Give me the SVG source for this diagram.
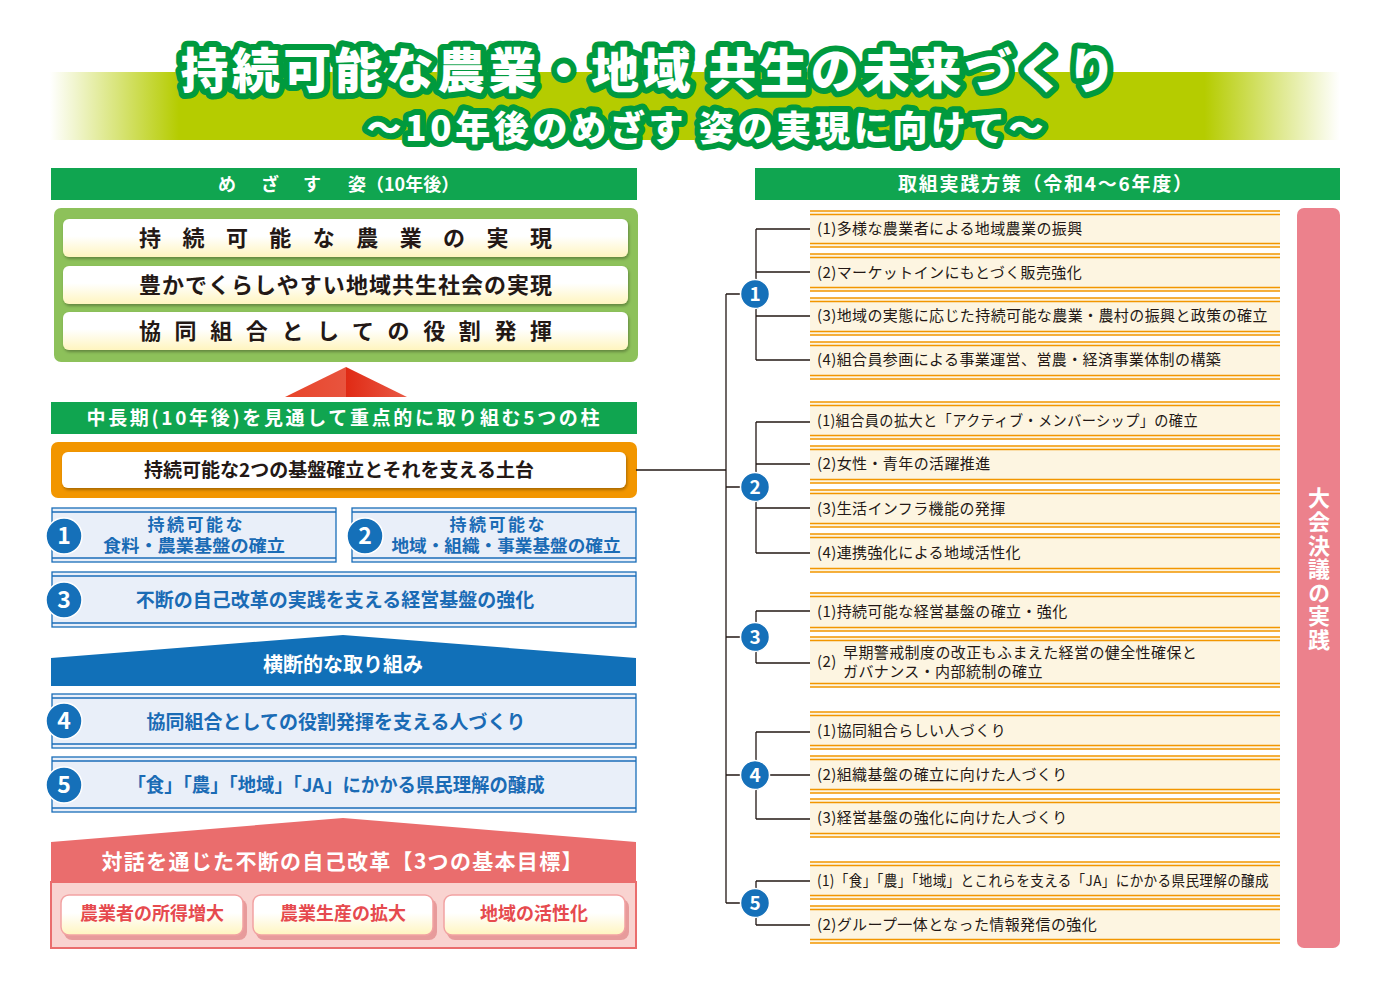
<svg xmlns="http://www.w3.org/2000/svg" width="1400" height="989" viewBox="0 0 1400 989">
<defs>
<linearGradient id="band" x1="0" y1="0" x2="1" y2="0">
<stop offset="0" stop-color="#b5cc00" stop-opacity="0"/>
<stop offset="0.1" stop-color="#b5cc00" stop-opacity="1"/>
<stop offset="0.895" stop-color="#b5cc00" stop-opacity="1"/>
<stop offset="1" stop-color="#b5cc00" stop-opacity="0"/>
</linearGradient>
<linearGradient id="cream" x1="0" y1="0" x2="0" y2="1">
<stop offset="0" stop-color="#ffffff"/>
<stop offset="0.45" stop-color="#ffffff"/>
<stop offset="1" stop-color="#fff5bf"/>
</linearGradient>
<linearGradient id="tri" x1="0" y1="0" x2="1" y2="0">
<stop offset="0" stop-color="#e8452a"/>
<stop offset="0.5" stop-color="#e8543e"/>
<stop offset="0.5" stop-color="#e02a14"/>
<stop offset="1" stop-color="#e95a46"/>
</linearGradient>
<filter id="sh" x="-5%" y="-10%" width="110%" height="130%">
<feDropShadow dx="1" dy="2" stdDeviation="1.5" flood-color="#000" flood-opacity="0.3"/>
</filter>
</defs>
<style>
.jp{font-family:"Noto Sans CJK JP","Noto Sans CJK SC",sans-serif;font-weight:700}
.title{fill:#fff;stroke:#009a3e;stroke-width:12;stroke-linejoin:round;paint-order:stroke;font-weight:900}
.hbar{fill:#10a550}
.wt{fill:#fff}
.dk{fill:#231815}
.bl{fill:#1a6bb5}
.bbox{fill:#e9eff9;stroke:#1a6db8;stroke-width:1.3}
.bln{stroke:#1a6db8;stroke-width:1.3}
.circ{fill:#1570b9;stroke:#fff;stroke-width:1.5}
.num{fill:#fff;font-family:"Noto Sans CJK JP",sans-serif;font-weight:700;text-anchor:middle}
.item{fill:#fdf5e1}
.oln{stroke:#f29600;stroke-width:1.4}
.itx{font-family:"Noto Sans CJK JP",sans-serif;font-weight:400;font-size:15px;fill:#231815;letter-spacing:0.4px}
.con{stroke:#231815;stroke-width:1.3;fill:none}
.inner{fill:url(#cream)}
.btn{fill:url(#cream);stroke:#f2a2a2;stroke-width:1.5}
.btnsh{fill:#e79b9b}
.rt{fill:#e64a4e}
.mid{text-anchor:middle}
</style>

<!-- title band -->
<rect x="50" y="72" width="1290" height="68" fill="url(#band)"/>
<g id="title">
<text class="jp title" x="648" y="88" font-size="48" text-anchor="middle" textLength="935" lengthAdjust="spacing">持続可能な農業・地域 共生の未来づくり</text>
<text class="jp title" x="705" y="141" font-size="35" text-anchor="middle" textLength="677" lengthAdjust="spacing">～10年後のめざす 姿の実現に向けて～</text>
</g>

<!-- left: goal -->
<g id="goal-header">
<rect class="hbar" x="51" y="168" width="586" height="32"/>
<text class="jp wt mid" font-size="18" y="191"><tspan x="227">め</tspan><tspan x="270">ざ</tspan><tspan x="312">す</tspan><tspan x="357">姿</tspan></text>
<text class="jp wt" font-size="18" x="366" y="191">（10年後）</text>
</g>
<g id="goal-box">
<rect x="54" y="208" width="584" height="154" rx="7" fill="#8dc15a"/>
<rect class="inner" x="63" y="219" width="565" height="38" rx="6" filter="url(#sh)"/>
<rect class="inner" x="63" y="266" width="565" height="38" rx="6" filter="url(#sh)"/>
<rect class="inner" x="63" y="312" width="565" height="38" rx="6" filter="url(#sh)"/>
<text class="jp dk" font-size="22" x="139" y="246" textLength="413" lengthAdjust="spacing">持続可能な農業の実現</text>
<text class="jp dk" font-size="22" x="139" y="293" textLength="413" lengthAdjust="spacing">豊かでくらしやすい地域共生社会の実現</text>
<text class="jp dk" font-size="22" x="139" y="339" textLength="413" lengthAdjust="spacing">協同組合としての役割発揮</text>
</g>
<g id="up-arrow">
<polygon points="285,397 346,367 407,397" fill="url(#tri)"/>
</g>

<g id="pillars-header">
<rect class="hbar" x="51" y="402" width="586" height="32"/>
<text class="jp wt mid" font-size="19" x="343" y="425" textLength="513" lengthAdjust="spacing">中長期(10年後)を見通して重点的に取り組む5つの柱</text>
</g>
<g id="foundation">
<rect x="51" y="442" width="586" height="56" rx="7" fill="#f29600"/>
<rect x="62" y="452" width="564" height="36" rx="6" fill="#fff" filter="url(#sh)"/>
<text class="jp dk mid" font-size="19" x="339" y="477">持続可能な2つの基盤確立とそれを支える土台</text>
</g>

<g id="pillar1">
<rect class="bbox" x="52" y="508" width="284" height="54"/>
<line class="bln" x1="52" y1="512" x2="336" y2="512"/>
<line class="bln" x1="52" y1="558" x2="336" y2="558"/>
<circle class="circ" cx="64" cy="536" r="18"/>
<text class="num" x="64" y="544" font-size="23">1</text>
<text class="jp bl mid" font-size="17"><tspan x="195" y="531" textLength="95" lengthAdjust="spacing">持続可能な</tspan><tspan x="194" y="552" textLength="182" lengthAdjust="spacingAndGlyphs">食料・農業基盤の確立</tspan></text>
</g>
<g id="pillar2">
<rect class="bbox" x="352" y="508" width="284" height="54"/>
<line class="bln" x1="352" y1="512" x2="636" y2="512"/>
<line class="bln" x1="352" y1="558" x2="636" y2="558"/>
<circle class="circ" cx="365" cy="536" r="18"/>
<text class="num" x="365" y="544" font-size="23">2</text>
<text class="jp bl mid" font-size="17"><tspan x="497" y="531" textLength="95" lengthAdjust="spacing">持続可能な</tspan><tspan x="506" y="552" textLength="229" lengthAdjust="spacingAndGlyphs">地域・組織・事業基盤の確立</tspan></text>
</g>
<g id="pillar3">
<rect class="bbox" x="52" y="572" width="584" height="55"/>
<line class="bln" x1="52" y1="576" x2="636" y2="576"/>
<line class="bln" x1="52" y1="623" x2="636" y2="623"/>
<circle class="circ" cx="64" cy="600" r="18"/>
<text class="num" x="64" y="608" font-size="23">3</text>
<text class="jp bl mid" font-size="19" x="335" y="607">不断の自己改革の実践を支える経営基盤の強化</text>
</g>

<g id="cross-header">
<polygon points="51,658 343,635 636,658 636,686 51,686" fill="#1170b8"/>
<text class="jp wt mid" font-size="20" x="343" y="672">横断的な取り組み</text>
</g>
<g id="pillar4">
<rect class="bbox" x="52" y="694" width="584" height="54"/>
<line class="bln" x1="52" y1="698" x2="636" y2="698"/>
<line class="bln" x1="52" y1="744" x2="636" y2="744"/>
<circle class="circ" cx="64" cy="721" r="18"/>
<text class="num" x="64" y="729" font-size="23">4</text>
<text class="jp bl mid" font-size="19" x="336" y="729">協同組合としての役割発揮を支える人づくり</text>
</g>
<g id="pillar5">
<rect class="bbox" x="52" y="757" width="584" height="55"/>
<line class="bln" x1="52" y1="761" x2="636" y2="761"/>
<line class="bln" x1="52" y1="808" x2="636" y2="808"/>
<circle class="circ" cx="64" cy="785" r="18"/>
<text class="num" x="64" y="793" font-size="23">5</text>
<text class="jp bl mid" font-size="19" x="336" y="792" textLength="417" lengthAdjust="spacingAndGlyphs">「食」「農」「地域」「JA」にかかる県民理解の醸成</text>
</g>

<g id="goals">
<polygon points="51,842 343,818 636,842 636,882 51,882" fill="#ea6d6d"/>
<rect x="51" y="882" width="585" height="66" fill="#f9d3d0" stroke="#ea6d6d" stroke-width="2"/>
<text class="jp wt mid" font-size="21" x="342" y="869" textLength="481" lengthAdjust="spacing">対話を通じた不断の自己改革【3つの基本目標】</text>
</g>
<g id="goal-a">
<rect class="btnsh" x="64" y="899" width="183" height="41" rx="8"/>
<rect class="btn" x="61" y="895" width="182" height="40" rx="8"/>
<text class="jp rt mid" font-size="18" x="152" y="920">農業者の所得増大</text>
</g>
<g id="goal-b">
<rect class="btnsh" x="256" y="899" width="181" height="41" rx="8"/>
<rect class="btn" x="253" y="895" width="180" height="40" rx="8"/>
<text class="jp rt mid" font-size="18" x="343" y="920">農業生産の拡大</text>
</g>
<g id="goal-c">
<rect class="btnsh" x="447" y="899" width="182" height="41" rx="8"/>
<rect class="btn" x="444" y="895" width="181" height="40" rx="8"/>
<text class="jp rt mid" font-size="18" x="534" y="920">地域の活性化</text>
</g>

<!-- right column -->
<g id="measures-header">
<rect class="hbar" x="755" y="168" width="585" height="32"/>
<text class="jp wt mid" font-size="19" x="1045" y="191" textLength="294" lengthAdjust="spacing">取組実践方策（令和4～6年度）</text>
</g>
<g id="resolution">
<rect x="1297" y="208" width="43" height="740" rx="7" fill="#ec818c"/>
<text class="jp wt" font-size="22" x="1319" y="487" style="writing-mode:vertical-rl;letter-spacing:1.6px">大会決議の実践</text>
</g>

<!-- connectors -->
<g id="connectors">
<path class="con" d="M636,470 H726 M726,294 V903 M726,294 H741 M726,487 H741 M726,637 H741 M726,775 H741 M726,903 H741"/>
<path class="con" d="M756,229 V360 M756,229 H810 M756,272 H810 M756,316 H810 M756,360 H810"/>
<path class="con" d="M756,422 V553 M756,422 H810 M756,464 H810 M756,508 H810 M756,553 H810"/>
<path class="con" d="M756,611 V663 M756,611 H810 M756,663 H810"/>
<path class="con" d="M756,732 V819 M756,732 H810 M756,775 H810 M756,819 H810"/>
<path class="con" d="M756,881 V925 M756,881 H810 M756,925 H810"/>
</g>

<g id="n1"><circle class="circ" cx="755" cy="294" r="14.5"/><text class="num" x="755" y="301" font-size="19">1</text></g>
<g id="n2"><circle class="circ" cx="755" cy="487" r="14.5"/><text class="num" x="755" y="494" font-size="19">2</text></g>
<g id="n3"><circle class="circ" cx="755" cy="637" r="14.5"/><text class="num" x="755" y="644" font-size="19">3</text></g>
<g id="n4"><circle class="circ" cx="755" cy="775" r="14.5"/><text class="num" x="755" y="782" font-size="19">4</text></g>
<g id="n5"><circle class="circ" cx="755" cy="903" r="14.5"/><text class="num" x="755" y="910" font-size="19">5</text></g>

<g id="i1-1"><rect class="item" x="810" y="211" width="470" height="36"/><path class="oln" d="M810,211H1280M810,214.5H1280M810,243.5H1280M810,247H1280"/><text class="itx" x="817" y="234">(1)多様な農業者による地域農業の振興</text></g>
<g id="i1-2"><rect class="item" x="810" y="254" width="470" height="37"/><path class="oln" d="M810,254H1280M810,257.5H1280M810,287.5H1280M810,291H1280"/><text class="itx" x="817" y="278">(2)マーケットインにもとづく販売強化</text></g>
<g id="i1-3"><rect class="item" x="810" y="298" width="470" height="37"/><path class="oln" d="M810,298H1280M810,301.5H1280M810,331.5H1280M810,335H1280"/><text class="itx" x="817" y="321">(3)地域の実態に応じた持続可能な農業・農村の振興と政策の確立</text></g>
<g id="i1-4"><rect class="item" x="810" y="342" width="470" height="37"/><path class="oln" d="M810,342H1280M810,345.5H1280M810,375.5H1280M810,379H1280"/><text class="itx" x="817" y="365">(4)組合員参画による事業運営、営農・経済事業体制の構築</text></g>

<g id="i2-1"><rect class="item" x="810" y="402" width="470" height="37"/><path class="oln" d="M810,402H1280M810,405.5H1280M810,435.5H1280M810,439H1280"/><text class="itx" x="817" y="426" textLength="381" lengthAdjust="spacingAndGlyphs">(1)組合員の拡大と「アクティブ・メンバーシップ」の確立</text></g>
<g id="i2-2"><rect class="item" x="810" y="446" width="470" height="37"/><path class="oln" d="M810,446H1280M810,449.5H1280M810,479.5H1280M810,483H1280"/><text class="itx" x="817" y="469">(2)女性・青年の活躍推進</text></g>
<g id="i2-3"><rect class="item" x="810" y="490" width="470" height="37"/><path class="oln" d="M810,490H1280M810,493.5H1280M810,523.5H1280M810,527H1280"/><text class="itx" x="817" y="514">(3)生活インフラ機能の発揮</text></g>
<g id="i2-4"><rect class="item" x="810" y="534" width="470" height="38"/><path class="oln" d="M810,534H1280M810,537.5H1280M810,568.5H1280M810,572H1280"/><text class="itx" x="817" y="558">(4)連携強化による地域活性化</text></g>

<g id="i3-1"><rect class="item" x="810" y="593" width="470" height="38"/><path class="oln" d="M810,593H1280M810,596.5H1280M810,627.5H1280M810,631H1280"/><text class="itx" x="817" y="617">(1)持続可能な経営基盤の確立・強化</text></g>
<g id="i3-2"><rect class="item" x="810" y="637" width="470" height="50"/><path class="oln" d="M810,637H1280M810,640.5H1280M810,683.5H1280M810,687H1280"/><text class="itx" x="817" y="667">(2)</text><text class="itx"><tspan x="843" y="658">早期警戒制度の改正もふまえた経営の健全性確保と</tspan><tspan x="843" y="677">ガバナンス・内部統制の確立</tspan></text></g>

<g id="i4-1"><rect class="item" x="810" y="712" width="470" height="37"/><path class="oln" d="M810,712H1280M810,715.5H1280M810,745.5H1280M810,749H1280"/><text class="itx" x="817" y="736">(1)協同組合らしい人づくり</text></g>
<g id="i4-2"><rect class="item" x="810" y="756" width="470" height="37"/><path class="oln" d="M810,756H1280M810,759.5H1280M810,789.5H1280M810,793H1280"/><text class="itx" x="817" y="780">(2)組織基盤の確立に向けた人づくり</text></g>
<g id="i4-3"><rect class="item" x="810" y="799" width="470" height="38"/><path class="oln" d="M810,799H1280M810,802.5H1280M810,833.5H1280M810,837H1280"/><text class="itx" x="817" y="823">(3)経営基盤の強化に向けた人づくり</text></g>

<g id="i5-1"><rect class="item" x="810" y="862" width="470" height="37"/><path class="oln" d="M810,862H1280M810,865.5H1280M810,895.5H1280M810,899H1280"/><text class="itx" x="817" y="886" textLength="452" lengthAdjust="spacingAndGlyphs">(1)「食」「農」「地域」とこれらを支える「JA」にかかる県民理解の醸成</text></g>
<g id="i5-2"><rect class="item" x="810" y="906" width="470" height="37"/><path class="oln" d="M810,906H1280M810,909.5H1280M810,939.5H1280M810,943H1280"/><text class="itx" x="817" y="930">(2)グループ一体となった情報発信の強化</text></g>
</svg>
